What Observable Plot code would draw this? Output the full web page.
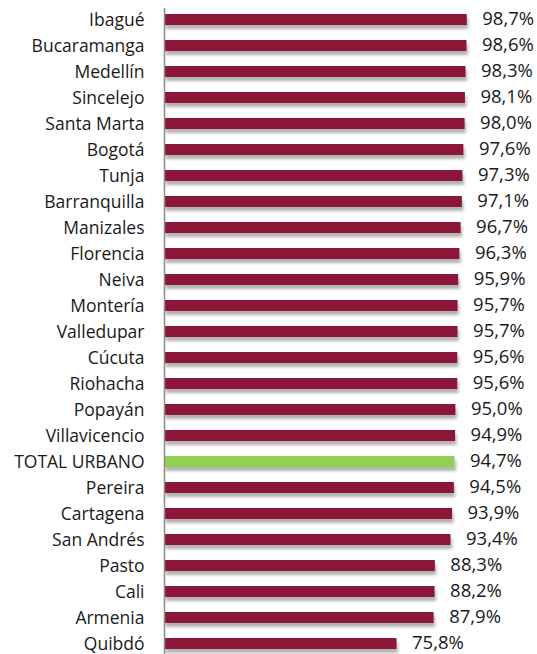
<!DOCTYPE html>
<html>
<head>
<meta charset="utf-8">
<script src="https://cdn.jsdelivr.net/npm/d3@7"></script>
<script src="https://cdn.jsdelivr.net/npm/@observablehq/plot@0.6"></script>
<style>
  html, body { margin: 0; padding: 0; background: #fff; }
  #chart svg { display: block; overflow: visible; }
</style>
</head>
<body>
<div id="chart"></div>
<script>
const cities = ["Ibagué","Bucaramanga","Medellín","Sincelejo","Santa Marta","Bogotá","Tunja","Barranquilla","Manizales","Florencia","Neiva","Montería","Valledupar","Cúcuta","Riohacha","Popayán","Villavicencio","TOTAL URBANO","Pereira","Cartagena","San Andrés","Pasto","Cali","Armenia","Quibdó"];
const values = [98.7,98.6,98.3,98.1,98.0,97.6,97.3,97.1,96.7,96.3,95.9,95.7,95.7,95.6,95.6,95.0,94.9,94.7,94.5,93.9,93.4,88.3,88.2,87.9,75.8];
const highlight = "TOTAL URBANO";

const data = cities.map((c, i) => ({city: c, value: values[i], total: c === highlight}));
const fmt = v => v.toFixed(1).replace(".", ",") + "%";

const chart = Plot.plot({
  width: 537,
  height: 654,
  marginLeft: 164,
  marginRight: 0,
  marginTop: 8,
  marginBottom: 0,
  style: {fontFamily: "'Open Sans', sans-serif", fontSize: "17.5px", color: "#1a1a1a", background: "#fff"},
  x: {domain: [0, 121.6], axis: null},
  y: {domain: cities, paddingInner: 0.58, paddingOuter: 0.2, label: null},
  marks: [
    Plot.barX(data, {x: "value", y: "city", fill: d => d.total ? "#92D050" : "#8B1538", className: "bars"}),
    Plot.ruleX([0], {stroke: "#8c8c8c", strokeWidth: 1.5}),
    Plot.text(data, {x: "value", y: "city", text: d => fmt(d.value), textAnchor: "start", dx: 15, dy: -1, fill: "#1a1a1a", fontSize: 18.5}),
    Plot.axisY({tickSize: 0, tickPadding: 20, fontSize: 17.5, label: null, fill: "#1a1a1a"})
  ]
});

const svg = d3.select(chart);
const defs = svg.insert("defs", ":first-child");
const f = defs.append("filter").attr("id", "barshadow").attr("x", "-5%").attr("y", "-50%").attr("width", "115%").attr("height", "250%");
f.append("feDropShadow").attr("dx", 1.5).attr("dy", 4).attr("stdDeviation", 1.5).attr("flood-color", "#000").attr("flood-opacity", 0.3);
svg.selectAll("g.bars").attr("filter", "url(#barshadow)");

document.getElementById("chart").appendChild(chart);
</script>
</body>
</html>
